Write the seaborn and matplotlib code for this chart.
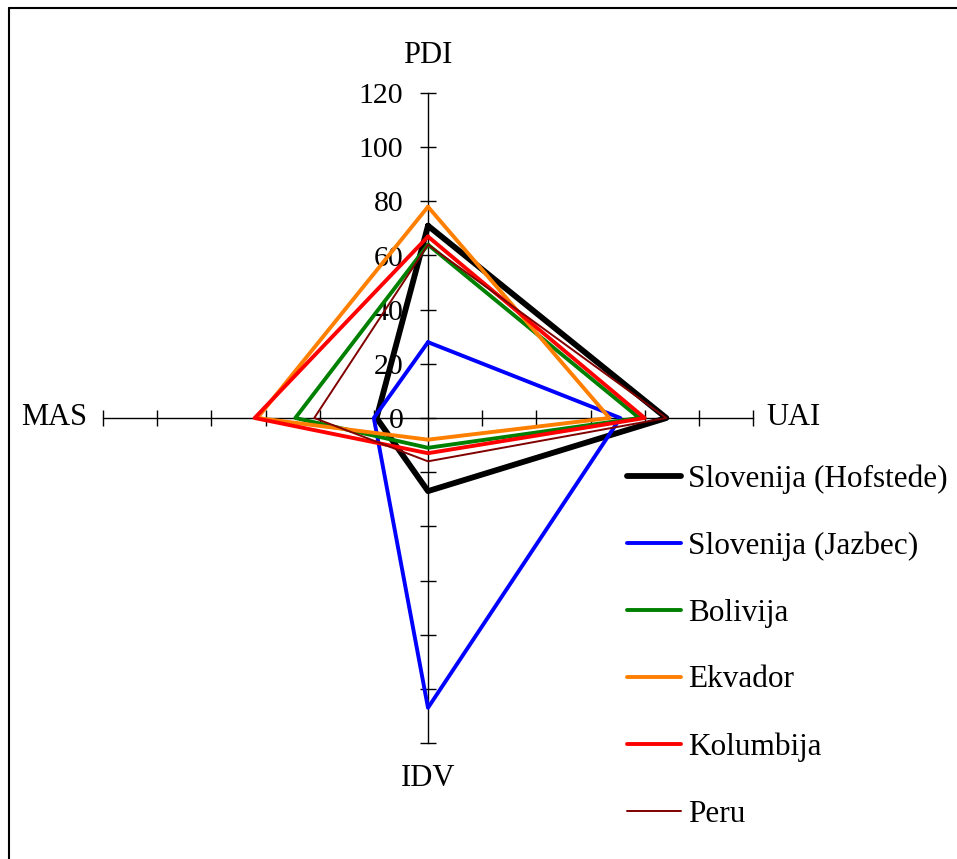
import numpy as np
import pandas as pd
import seaborn as sns
import matplotlib.pyplot as plt
from matplotlib.lines import Line2D

sns.set_style("white")
plt.rcParams['font.family'] = ['Liberation Serif', 'DejaVu Serif']
plt.rcParams['text.color'] = 'black'
plt.rcParams['xtick.color'] = 'black'
plt.rcParams['ytick.color'] = 'black'

# axes of the radar, clockwise from top
dims = ["PDI", "UAI", "IDV", "MAS"]
angles = [90, 0, 270, 180]

countries = ["Slovenija (Hofstede)", "Slovenija (Jazbec)", "Bolivija",
             "Ekvador", "Kolumbija", "Peru"]
slo_hof = [71, 88, 27, 19]
slo_jaz = [28, 71, 107, 20]
bolivija = [64, 78, 11, 49]
ekvador = [78, 67, 8, 63]
kolumbija = [67, 80, 13, 64]
peru = [64, 88, 16, 42]
values = [slo_hof, slo_jaz, bolivija, ekvador, kolumbija, peru]

colors = ["#000000", "#0000FF", "#008000", "#FF7F00", "#FF0000", "#800000"]
widths = [4.2, 2.8, 2.8, 2.8, 2.8, 1.4]

W, H = 957, 859
cx, cy = 428, 418          # centre in pixels (from top)
s = 325 / 120              # pixels per unit

fig = plt.figure(figsize=(W / 100, H / 100), dpi=100)
ax = fig.add_axes([0, 0, 1, 1])
ax.set_xlim(-cx / s, (W - cx) / s)
ax.set_ylim(-(H - cy) / s, cy / s)

theta = np.deg2rad(angles + angles[:1])
for name, vals, c, lw in zip(countries, values, colors, widths):
    r = np.array(vals + vals[:1], dtype=float)
    df = pd.DataFrame({"x": r * np.cos(theta), "y": r * np.sin(theta)})
    sns.lineplot(data=df, x="x", y="y", sort=False, estimator=None, color=c,
                 linewidth=lw, label=name, ax=ax, zorder=3)

# axes through centre with cross ticks
for side in ["top", "right"]:
    ax.spines[side].set_visible(False)
ax.spines["left"].set_position(("data", 0))
ax.spines["bottom"].set_position(("data", 0))
ax.spines["left"].set_bounds(-120, 120)
ax.spines["bottom"].set_bounds(-120, 120)
for sp in ["left", "bottom"]:
    ax.spines[sp].set_linewidth(1)
    ax.spines[sp].set_color("black")
ticks = list(range(-120, 121, 20))
ax.set_yticks(ticks)
ax.set_yticklabels([str(t) if t >= 0 else "" for t in ticks])
ax.set_xticks([t for t in ticks if t != 0])
ax.set_xticklabels([])
ax.tick_params(axis="both", direction="inout", length=11.5, width=1,
               color="black", labelcolor="black", labelsize=21.5, pad=12,
               left=True, bottom=True)
ax.set_xlabel("")
ax.set_ylabel("")

lab = dict(fontsize=22, ha="center", va="center", color="black")
ax.text(0, 134, "PDI", **lab)
ax.text(135, 0, "UAI", **lab)
ax.text(0, -133, "IDV", **lab)
ax.text(-138, 0, "MAS", **lab)

ax.legend(loc="upper left", bbox_to_anchor=(627 / W, 1 - 464 / H),
          bbox_transform=fig.transFigure, frameon=False, fontsize=22.5,
          handlelength=1.73, handletextpad=0.22, labelspacing=1.21,
          borderpad=0, borderaxespad=0)

# chart border (only left and top edges visible)
fig.add_artist(Line2D([8.5 / W, 8.5 / W], [0, 1 - 7.5 / H], color="black",
                      linewidth=1.5, transform=fig.transFigure))
fig.add_artist(Line2D([8.5 / W, 1], [1 - 7.5 / H, 1 - 7.5 / H], color="black",
                      linewidth=1.5, transform=fig.transFigure))

fig.savefig("out.png", dpi=100)
